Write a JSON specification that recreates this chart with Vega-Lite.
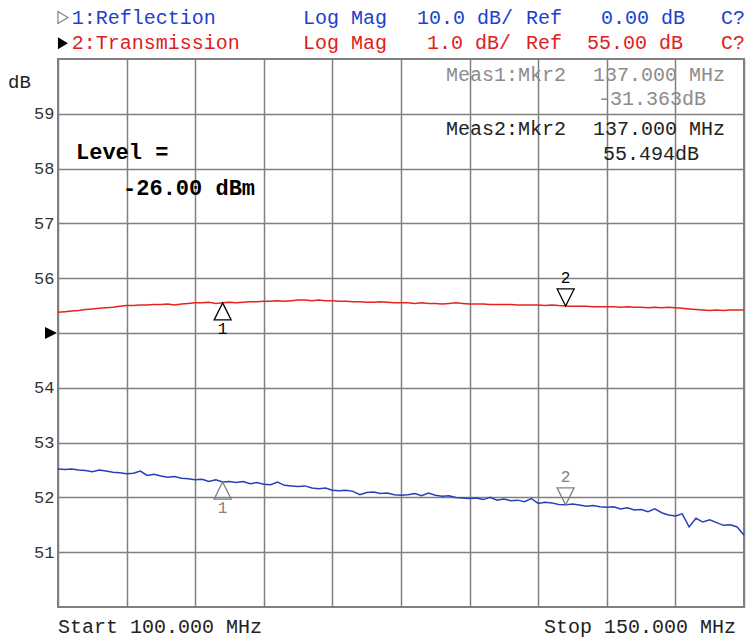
{
"$schema": "https://vega.github.io/schema/vega-lite/v6.json",
"width": 686, "height": 548,
"autosize": {"type": "none"},
"padding": {"left": 58, "top": 59, "right": 4, "bottom": 32},
"background": "white",
"config": {"view": {"stroke": "#808080", "strokeWidth": 2}},
"datasets": {
"red": [
{"f":100.0,"v":55.38},{"f":100.5,"v":55.39},{"f":101.0,"v":55.40},{"f":101.5,"v":55.41},{"f":102.0,"v":55.43},{"f":102.5,"v":55.44},{"f":103.0,"v":55.45},{"f":103.5,"v":55.46},{"f":104.0,"v":55.47},{"f":104.5,"v":55.49},
{"f":105.0,"v":55.50},{"f":105.5,"v":55.50},{"f":106.0,"v":55.51},{"f":106.5,"v":55.51},{"f":107.0,"v":55.52},{"f":107.5,"v":55.52},{"f":108.0,"v":55.53},{"f":108.5,"v":55.51},{"f":109.0,"v":55.53},{"f":109.5,"v":55.54},
{"f":110.0,"v":55.55},{"f":110.5,"v":55.55},{"f":111.0,"v":55.56},{"f":111.5,"v":55.54},{"f":112.0,"v":55.55},{"f":112.5,"v":55.56},{"f":113.0,"v":55.55},{"f":113.5,"v":55.56},{"f":114.0,"v":55.57},{"f":114.5,"v":55.57},
{"f":115.0,"v":55.58},{"f":115.5,"v":55.58},{"f":116.0,"v":55.59},{"f":116.5,"v":55.58},{"f":117.0,"v":55.59},{"f":117.5,"v":55.60},{"f":118.0,"v":55.60},{"f":118.5,"v":55.59},{"f":119.0,"v":55.60},{"f":119.5,"v":55.59},
{"f":120.0,"v":55.59},{"f":120.5,"v":55.58},{"f":121.0,"v":55.58},{"f":121.5,"v":55.57},{"f":122.0,"v":55.57},{"f":122.5,"v":55.56},{"f":123.0,"v":55.56},{"f":123.5,"v":55.57},{"f":124.0,"v":55.56},{"f":124.5,"v":55.55},
{"f":125.0,"v":55.55},{"f":125.5,"v":55.55},{"f":126.0,"v":55.54},{"f":126.5,"v":55.55},{"f":127.0,"v":55.54},{"f":127.5,"v":55.54},{"f":128.0,"v":55.53},{"f":128.5,"v":55.54},{"f":129.0,"v":55.55},{"f":129.5,"v":55.54},
{"f":130.0,"v":55.53},{"f":130.5,"v":55.53},{"f":131.0,"v":55.53},{"f":131.5,"v":55.52},{"f":132.0,"v":55.52},{"f":132.5,"v":55.52},{"f":133.0,"v":55.52},{"f":133.5,"v":55.51},{"f":134.0,"v":55.51},{"f":134.5,"v":55.51},
{"f":135.0,"v":55.51},{"f":135.5,"v":55.50},{"f":136.0,"v":55.51},{"f":136.5,"v":55.50},{"f":137.0,"v":55.494},{"f":137.5,"v":55.49},{"f":138.0,"v":55.49},{"f":138.5,"v":55.49},{"f":139.0,"v":55.48},{"f":139.5,"v":55.48},
{"f":140.0,"v":55.48},{"f":140.5,"v":55.48},{"f":141.0,"v":55.47},{"f":141.5,"v":55.48},{"f":142.0,"v":55.47},{"f":142.5,"v":55.47},{"f":143.0,"v":55.46},{"f":143.5,"v":55.47},{"f":144.0,"v":55.46},{"f":144.5,"v":55.47},
{"f":145.0,"v":55.46},{"f":145.5,"v":55.45},{"f":146.0,"v":55.44},{"f":146.5,"v":55.43},{"f":147.0,"v":55.42},{"f":147.5,"v":55.41},{"f":148.0,"v":55.42},{"f":148.5,"v":55.41},{"f":149.0,"v":55.42},{"f":149.5,"v":55.42},
{"f":150.0,"v":55.42}
],
"blue": [
{"f":100.0,"v":-24.8},{"f":100.5,"v":-24.9},{"f":101.0,"v":-24.8},{"f":101.5,"v":-25.0},{"f":102.0,"v":-25.1},{"f":102.5,"v":-25.3},{"f":103.0,"v":-25.0},{"f":103.5,"v":-25.2},{"f":104.0,"v":-25.4},{"f":104.5,"v":-25.5},
{"f":105.0,"v":-25.7},{"f":105.5,"v":-25.6},{"f":106.0,"v":-25.2},{"f":106.5,"v":-26.0},{"f":107.0,"v":-25.8},{"f":107.5,"v":-26.1},{"f":108.0,"v":-26.3},{"f":108.5,"v":-26.2},{"f":109.0,"v":-26.5},{"f":109.5,"v":-26.6},
{"f":110.0,"v":-26.8},{"f":110.5,"v":-26.7},{"f":111.0,"v":-27.1},{"f":111.5,"v":-26.8},{"f":112.0,"v":-27.2},{"f":112.5,"v":-27.1},{"f":113.0,"v":-27.3},{"f":113.5,"v":-27.1},{"f":114.0,"v":-27.5},{"f":114.5,"v":-27.3},
{"f":115.0,"v":-27.6},{"f":115.5,"v":-27.7},{"f":116.0,"v":-27.2},{"f":116.5,"v":-27.8},{"f":117.0,"v":-27.9},{"f":117.5,"v":-28.0},{"f":118.0,"v":-27.9},{"f":118.5,"v":-28.3},{"f":119.0,"v":-28.4},{"f":119.5,"v":-28.3},
{"f":120.0,"v":-28.7},{"f":120.5,"v":-28.8},{"f":121.0,"v":-28.7},{"f":121.5,"v":-28.9},{"f":122.0,"v":-29.5},{"f":122.5,"v":-29.1},{"f":123.0,"v":-29.0},{"f":123.5,"v":-29.3},{"f":124.0,"v":-29.2},{"f":124.5,"v":-29.5},
{"f":125.0,"v":-29.6},{"f":125.5,"v":-29.5},{"f":126.0,"v":-29.3},{"f":126.5,"v":-29.7},{"f":127.0,"v":-29.2},{"f":127.5,"v":-29.6},{"f":128.0,"v":-29.8},{"f":128.5,"v":-29.7},{"f":129.0,"v":-30.0},{"f":129.5,"v":-30.1},
{"f":130.0,"v":-30.2},{"f":130.5,"v":-30.1},{"f":131.0,"v":-30.4},{"f":131.5,"v":-30.0},{"f":132.0,"v":-30.5},{"f":132.5,"v":-30.3},{"f":133.0,"v":-30.6},{"f":133.5,"v":-30.5},{"f":134.0,"v":-30.8},{"f":134.5,"v":-30.2},
{"f":135.0,"v":-31.1},{"f":135.5,"v":-30.9},{"f":136.0,"v":-31.0},{"f":136.5,"v":-31.3},{"f":137.0,"v":-31.363},{"f":137.5,"v":-31.2},{"f":138.0,"v":-31.4},{"f":138.5,"v":-31.6},{"f":139.0,"v":-31.5},{"f":139.5,"v":-31.7},
{"f":140.0,"v":-31.8},{"f":140.5,"v":-31.7},{"f":141.0,"v":-32.1},{"f":141.5,"v":-31.9},{"f":142.0,"v":-32.3},{"f":142.5,"v":-32.2},{"f":143.0,"v":-32.6},{"f":143.5,"v":-32.1},{"f":144.0,"v":-32.8},{"f":144.5,"v":-33.2},
{"f":145.0,"v":-33.4},{"f":145.5,"v":-33.0},{"f":146.0,"v":-35.4},{"f":146.5,"v":-33.8},{"f":147.0,"v":-34.5},{"f":147.5,"v":-34.1},{"f":148.0,"v":-34.6},{"f":148.5,"v":-35.1},{"f":149.0,"v":-35.0},{"f":149.5,"v":-35.4},
{"f":150.0,"v":-36.9}
],
"redMk": [{"f":112,"v":55.55,"n":"1"},{"f":137,"v":55.494,"n":"2"}],
"blueMk": [{"f":112,"v":-27.2,"n":"1"},{"f":137,"v":-31.363,"n":"2"}],
"hdrBlue": [{"f":101.0,"v":60.757,"t":"1:Reflection"},{"f":117.857,"v":60.757,"t":"Log Mag"},{"f":126.166,"v":60.757,"t":"10.0 dB/"},{"f":134.111,"v":60.757,"t":"Ref"},{"f":139.577,"v":60.757,"t":"0.00 dB"},{"f":148.324,"v":60.757,"t":"C?"}],
"hdrRed": [{"f":101.0,"v":60.286,"t":"2:Transmission"},{"f":117.857,"v":60.286,"t":"Log Mag"},{"f":126.895,"v":60.286,"t":"1.0 dB/"},{"f":134.111,"v":60.286,"t":"Ref"},{"f":138.557,"v":60.286,"t":"55.00 dB"},{"f":148.324,"v":60.286,"t":"C?"}],
"hdrSym1": [{"f":100.36,"v":60.757}],
"hdrSym2": [{"f":100.36,"v":60.286}],
"refArrow": [{"f":99.49,"v":55}],
"meas1": [{"f":128.28,"v":59.708,"t":"Meas1:Mkr2"},{"f":138.994,"v":59.708,"t":"137.000 MHz"}],
"meas1v": [{"f":143.29,"v":59.27,"t":"-31.363dB"}],
"meas2": [{"f":128.28,"v":58.723,"t":"Meas2:Mkr2"},{"f":138.994,"v":58.723,"t":"137.000 MHz"}],
"meas2v": [{"f":143.22,"v":58.266,"t":"55.494dB"}],
"level": [{"f":101.31,"v":58.303,"t":"Level ="},{"f":104.74,"v":57.655,"t":"-26.00 dBm"}],
"startStop": [{"f":100.0,"v":49.64,"t":"Start 100.000 MHz"},{"f":135.42,"v":49.64,"t":"Stop 150.000 MHz"}],
"dbLabel": [{"f":96.356,"v":59.58,"t":"dB"}]
},
"layer": [
{
"encoding": {
  "x": {"field": "f", "type": "quantitative", "scale": {"domain": [100, 150], "nice": false, "zero": false},
        "axis": {"values": [100,105,110,115,120,125,130,135,140,145,150], "title": null, "labels": false, "ticks": false, "domain": false, "grid": true, "gridColor": "#808080", "gridWidth": 1.5}},
  "y": {"field": "v", "type": "quantitative", "scale": {"domain": [50, 60], "nice": false, "zero": false},
        "axis": {"values": [51,52,53,54,55,56,57,58,59], "labelExpr": "datum.value == 55 ? '' : datum.label", "title": null, "ticks": false, "domain": false, "grid": true, "gridColor": "#808080", "gridWidth": 1.5, "labelFont": "Liberation Mono", "labelFontSize": 17, "labelColor": "#333333", "labelPadding": 4, "labelBaseline": "middle"}}
},
"layer": [
{"data": {"name": "red"},
 "mark": {"type": "line", "color": "#e8231f", "strokeWidth": 1.5}},
{"data": {"name": "redMk"}, "transform": [{"filter": "datum.n == '1'"}],
 "mark": {"type": "point", "shape": "M0,0L1,2L-1,2Z", "size": 289, "filled": false, "color": "black", "strokeWidth": 1.3, "opacity": 1}},
{"data": {"name": "redMk"}, "transform": [{"filter": "datum.n == '2'"}],
 "mark": {"type": "point", "shape": "M0,0L1,-2L-1,-2Z", "size": 289, "filled": false, "color": "black", "strokeWidth": 1.3, "opacity": 1}},
{"data": {"name": "redMk"}, "transform": [{"filter": "datum.n == '1'"}],
 "mark": {"type": "text", "font": "Liberation Mono", "fontSize": 16, "color": "black", "baseline": "middle", "dy": 26},
 "encoding": {"text": {"field": "n"}}},
{"data": {"name": "redMk"}, "transform": [{"filter": "datum.n == '2'"}],
 "mark": {"type": "text", "font": "Liberation Mono", "fontSize": 16, "color": "black", "baseline": "middle", "dy": -28},
 "encoding": {"text": {"field": "n"}}},
{"data": {"name": "refArrow"},
 "mark": {"type": "point", "shape": "M1,0L-1,-1L-1,1Z", "size": 144, "filled": true, "color": "black", "opacity": 1}},
{"data": {"name": "hdrSym1"},
 "mark": {"type": "point", "shape": "M1,0L-1,-1.2L-1,1.2Z", "size": 100, "filled": false, "color": "#808080", "strokeWidth": 1.2, "opacity": 1}},
{"data": {"name": "hdrSym2"},
 "mark": {"type": "point", "shape": "M1,0L-1,-1.2L-1,1.2Z", "size": 100, "filled": true, "color": "black", "opacity": 1}},
{"data": {"name": "hdrBlue"},
 "mark": {"type": "text", "font": "Liberation Mono", "fontSize": 20, "color": "#2040d0", "align": "left", "baseline": "middle"},
 "encoding": {"text": {"field": "t"}}},
{"data": {"name": "hdrRed"},
 "mark": {"type": "text", "font": "Liberation Mono", "fontSize": 20, "color": "#e02020", "align": "left", "baseline": "middle"},
 "encoding": {"text": {"field": "t"}}},
{"data": {"name": "meas1"},
 "mark": {"type": "text", "font": "Liberation Mono", "fontSize": 20, "color": "#8c8c8c", "align": "left", "baseline": "middle"},
 "encoding": {"text": {"field": "t"}}},
{"data": {"name": "meas1v"},
 "mark": {"type": "text", "font": "Liberation Mono", "fontSize": 20, "color": "#8c8c8c", "align": "center", "baseline": "middle"},
 "encoding": {"text": {"field": "t"}}},
{"data": {"name": "meas2"},
 "mark": {"type": "text", "font": "Liberation Mono", "fontSize": 20, "color": "#222222", "align": "left", "baseline": "middle"},
 "encoding": {"text": {"field": "t"}}},
{"data": {"name": "meas2v"},
 "mark": {"type": "text", "font": "Liberation Mono", "fontSize": 20, "color": "#222222", "align": "center", "baseline": "middle"},
 "encoding": {"text": {"field": "t"}}},
{"data": {"name": "level"},
 "mark": {"type": "text", "font": "Liberation Mono", "fontSize": 22, "fontWeight": "bold", "color": "black", "align": "left", "baseline": "middle"},
 "encoding": {"text": {"field": "t"}}},
{"data": {"name": "startStop"},
 "mark": {"type": "text", "font": "Liberation Mono", "fontSize": 20, "color": "#222222", "align": "left", "baseline": "middle"},
 "encoding": {"text": {"field": "t"}}},
{"data": {"name": "dbLabel"},
 "mark": {"type": "text", "font": "Liberation Mono", "fontSize": 19, "color": "#222222", "align": "left", "baseline": "middle"},
 "encoding": {"text": {"field": "t"}}}
]
},
{
"encoding": {
  "x": {"field": "f", "type": "quantitative", "scale": {"domain": [100, 150], "nice": false, "zero": false},
        "axis": {"values": [100,105,110,115,120,125,130,135,140,145,150], "title": null, "labels": false, "ticks": false, "domain": false, "grid": true, "gridColor": "#808080", "gridWidth": 1.5}},
  "y": {"field": "v", "type": "quantitative", "scale": {"domain": [-50, 50], "nice": false, "zero": false}, "axis": null}
},
"layer": [
{"data": {"name": "blue"},
 "mark": {"type": "line", "color": "#2541b8", "strokeWidth": 1.5}},
{"data": {"name": "blueMk"}, "transform": [{"filter": "datum.n == '1'"}],
 "mark": {"type": "point", "shape": "M0,0L1,2L-1,2Z", "size": 289, "filled": false, "color": "#808080", "strokeWidth": 1.3, "opacity": 1}},
{"data": {"name": "blueMk"}, "transform": [{"filter": "datum.n == '2'"}],
 "mark": {"type": "point", "shape": "M0,0L1,-2L-1,-2Z", "size": 289, "filled": false, "color": "#808080", "strokeWidth": 1.3, "opacity": 1}},
{"data": {"name": "blueMk"}, "transform": [{"filter": "datum.n == '1'"}],
 "mark": {"type": "text", "font": "Liberation Mono", "fontSize": 16, "color": "#808080", "baseline": "middle", "dy": 26},
 "encoding": {"text": {"field": "n"}}},
{"data": {"name": "blueMk"}, "transform": [{"filter": "datum.n == '2'"}],
 "mark": {"type": "text", "font": "Liberation Mono", "fontSize": 16, "color": "#808080", "baseline": "middle", "dy": -28},
 "encoding": {"text": {"field": "n"}}}
]
}
],
"resolve": {"scale": {"y": "independent"}}
}
